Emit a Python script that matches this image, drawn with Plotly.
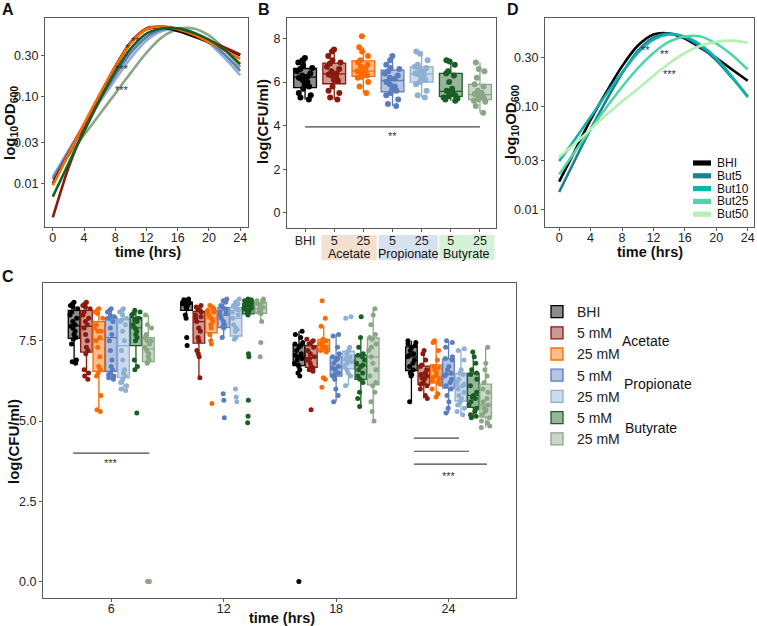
import plotly.graph_objects as go
import numpy as np

W, H = 757, 626
FONT = "Liberation Sans, Arial, sans-serif"


def px(x):
    return x / W


def py(y):
    return 1 - y / H


# ---------------- Panel A: fitted growth curves (log10 OD600) ----------------
hours = [0, 2, 4, 6, 8, 10, 12, 14, 16, 18, 20, 22, 24]
a_bhi = [-2.00, -1.66, -1.32, -0.98, -0.65, -0.37, -0.22, -0.20, -0.24, -0.30, -0.37, -0.44, -0.52]
a_ace5 = [-2.39, -1.82, -1.37, -0.99, -0.65, -0.37, -0.21, -0.19, -0.22, -0.28, -0.35, -0.43, -0.51]
a_ace25 = [-2.02, -1.66, -1.31, -0.97, -0.65, -0.38, -0.22, -0.19, -0.22, -0.28, -0.37, -0.46, -0.56]
a_prop5 = [-1.95, -1.63, -1.32, -1.03, -0.75, -0.49, -0.31, -0.22, -0.21, -0.26, -0.36, -0.51, -0.70]
a_prop25 = [-1.92, -1.62, -1.33, -1.06, -0.80, -0.55, -0.35, -0.24, -0.21, -0.26, -0.38, -0.55, -0.75]
a_but5 = [-2.15, -1.77, -1.40, -1.04, -0.71, -0.44, -0.27, -0.21, -0.21, -0.26, -0.34, -0.46, -0.62]
a_but25 = [-1.93, -1.68, -1.44, -1.20, -0.96, -0.72, -0.49, -0.31, -0.22, -0.21, -0.29, -0.45, -0.66]
od_ticks = [0.01, 0.03, 0.10, 0.30]
od_ticktext = ["0.01", "0.03", "0.10", "0.30"]

# ---------------- Panel D: butyrate growth curves (log10 OD600) ----------------
d_names = ["BHI", "But5", "But10", "But25", "But50"]
d_bhi = [-1.73, -1.43, -1.13, -0.86, -0.61, -0.41, -0.30, -0.29, -0.34, -0.43, -0.53, -0.64, -0.75]
d_but5 = [-1.83, -1.52, -1.22, -0.94, -0.68, -0.46, -0.33, -0.29, -0.33, -0.42, -0.55, -0.72, -0.90]
d_but10 = [-1.53, -1.32, -1.10, -0.88, -0.67, -0.48, -0.35, -0.30, -0.32, -0.40, -0.53, -0.71, -0.91]
d_but25 = [-1.66, -1.44, -1.22, -1.01, -0.81, -0.63, -0.48, -0.37, -0.32, -0.32, -0.39, -0.50, -0.64]
d_but50 = [-1.49, -1.36, -1.22, -1.08, -0.95, -0.83, -0.70, -0.58, -0.48, -0.41, -0.37, -0.36, -0.38]

# ---------------- Panel B: log(CFU/ml) per condition ----------------
b_groups = ["BHI", "Acetate 5", "Acetate 25", "Propionate 5", "Propionate 25", "Butyrate 5", "Butyrate 25"]
b_ticktext = ["BHI", "5", "25", "5", "25", "5", "25"]
b_bhi = [7.1, 7.0, 6.9, 6.75, 6.65, 6.6, 6.5, 6.4, 6.3, 6.25, 6.2, 6.1, 6.0, 5.9, 5.8, 5.7, 5.5, 5.4, 5.3, 5.2]
b_ace5 = [7.5, 7.4, 7.2, 7.0, 6.9, 6.85, 6.7, 6.6, 6.5, 6.4, 6.35, 6.3, 6.2, 6.1, 6.05, 5.8, 5.6, 5.5, 5.3, 5.2]
b_ace25 = [8.1, 7.6, 7.4, 7.2, 7.0, 6.9, 6.8, 6.7, 6.6, 6.5, 6.45, 6.4, 6.35, 6.3, 6.25, 6.2, 6.0, 5.8, 5.5]
b_prop5 = [7.2, 7.0, 6.8, 6.65, 6.6, 6.5, 6.4, 6.3, 6.2, 6.15, 6.0, 5.9, 5.8, 5.7, 5.6, 5.5, 5.4, 5.2, 5.0, 4.9]
b_prop25 = [7.4, 7.3, 7.0, 6.8, 6.7, 6.65, 6.6, 6.5, 6.4, 6.35, 6.3, 6.2, 6.1, 6.0, 5.9, 5.6, 5.4, 5.3]
b_but5 = [7.0, 6.95, 6.8, 6.5, 6.4, 6.3, 6.0, 5.7, 5.6, 5.55, 5.5, 5.45, 5.4, 5.35, 5.3, 5.25, 5.2, 5.15]
b_but25 = [6.9, 6.6, 6.5, 6.2, 5.9, 5.8, 5.6, 5.5, 5.45, 5.4, 5.35, 5.3, 5.25, 5.2, 5.15, 5.1, 4.9, 4.6]

# ---------------- Panel C: log(CFU/ml) over time ----------------
c_times = [6, 12, 18, 24]
c_legend = ["BHI", "5 mM", "25 mM", "5 mM", "25 mM", "5 mM", "25 mM"]
c_bhi = {
    6: [8.7, 8.65, 8.6, 8.55, 8.5, 8.4, 8.3, 8.2, 8.1, 8.0, 7.95, 7.9, 7.8, 7.7, 7.6, 7.55, 7.4, 6.9, 6.85, 6.8],
    12: [8.8, 8.78, 8.75, 8.72, 8.7, 8.7, 8.68, 8.65, 8.65, 8.6, 8.6, 8.55, 8.5, 8.3, 8.2, 7.6, 7.35],
    18: [7.8, 7.7, 7.6, 7.45, 7.4, 7.35, 7.3, 7.2, 7.1, 7.05, 7.0, 6.95, 6.9, 6.8, 6.75, 6.7, 6.6, 6.5, 6.4, 0.0],
    24: [7.5, 7.45, 7.4, 7.35, 7.3, 7.2, 7.1, 7.05, 7.0, 6.9, 6.8, 6.7, 6.6, 6.5, 6.45, 6.4, 5.6],
}
c_ace5 = {
    6: [8.7, 8.65, 8.6, 8.55, 8.5, 8.4, 8.3, 8.2, 8.1, 8.0, 7.9, 7.7, 7.5, 7.3, 7.2, 7.1, 6.6, 6.5, 6.4, 6.3],
    12: [8.6, 8.55, 8.5, 8.45, 8.4, 8.3, 8.25, 8.2, 8.1, 7.9, 7.8, 7.6, 7.5, 7.2, 7.1, 7.0, 6.35],
    18: [7.55, 7.5, 7.45, 7.4, 7.3, 7.2, 7.1, 7.0, 6.95, 6.9, 6.8, 6.7, 6.65, 6.6, 6.55, 5.35],
    24: [7.2, 7.1, 6.9, 6.75, 6.7, 6.6, 6.5, 6.45, 6.4, 6.35, 6.3, 6.2, 6.15, 6.1, 6.0, 5.8, 5.7],
}
c_ace25 = {
    6: [8.5, 8.45, 8.4, 8.35, 8.2, 8.0, 7.9, 7.8, 7.8, 7.6, 7.5, 7.3, 7.0, 6.7, 6.6, 6.5, 6.4, 5.8, 5.35, 5.3],
    12: [8.6, 8.55, 8.5, 8.45, 8.4, 8.35, 8.3, 8.2, 8.1, 8.0, 7.9, 7.7, 7.5, 7.4, 5.55],
    18: [8.75, 8.2, 7.95, 7.55, 7.5, 7.45, 7.4, 7.35, 7.3, 7.25, 7.2, 7.15, 6.35, 6.3, 6.05],
    24: [7.5, 7.45, 7.2, 6.9, 6.7, 6.65, 6.6, 6.5, 6.4, 6.35, 6.3, 6.25, 6.2, 6.15, 6.0, 5.85, 5.75],
}
c_prop5 = {
    6: [8.5, 8.45, 8.4, 8.3, 8.25, 8.2, 8.2, 8.1, 7.9, 7.7, 7.5, 7.2, 6.9, 6.7, 6.6, 6.5, 6.45, 6.4, 6.35, 6.3],
    12: [8.8, 8.75, 8.7, 8.6, 8.55, 8.5, 8.45, 8.4, 8.35, 8.3, 8.2, 8.1, 8.0, 7.95, 7.9, 7.6, 5.85, 5.65, 5.1],
    18: [7.7, 7.65, 7.3, 7.1, 7.0, 6.95, 6.9, 6.8, 6.7, 6.65, 6.6, 6.5, 6.45, 6.4, 6.3, 6.0, 5.8, 5.6],
    24: [7.5, 7.45, 7.3, 7.0, 6.95, 6.9, 6.7, 6.6, 6.5, 6.45, 6.4, 6.3, 6.2, 6.1, 6.0, 5.8, 5.6, 5.4, 5.25],
}
c_prop25 = {
    6: [8.5, 8.45, 8.4, 8.3, 8.2, 8.15, 8.1, 8.0, 7.8, 7.5, 7.2, 6.9, 6.6, 6.5, 6.4, 6.3, 6.2, 6.1, 6.0, 5.95],
    12: [8.8, 8.7, 8.65, 8.6, 8.55, 8.5, 8.45, 8.4, 8.3, 8.2, 8.0, 7.9, 7.85, 7.8, 7.6, 7.55, 6.0, 5.75, 5.6],
    18: [8.25, 8.2, 7.3, 7.2, 7.1, 7.0, 6.95, 6.9, 6.85, 6.8, 6.7, 6.6, 6.5, 6.4, 6.1],
    24: [7.25, 7.2, 6.9, 6.6, 6.5, 6.45, 6.3, 6.2, 6.15, 6.1, 6.0, 5.9, 5.8, 5.7, 5.6, 5.5, 5.4, 5.3, 5.2],
}
c_but5 = {
    6: [8.45, 8.4, 8.35, 8.3, 8.2, 8.15, 8.1, 8.0, 7.9, 7.8, 7.7, 7.6, 7.5, 6.9, 6.7, 6.6, 5.25],
    12: [8.8, 8.78, 8.75, 8.72, 8.7, 8.68, 8.65, 8.62, 8.6, 8.58, 8.55, 8.52, 8.5, 8.48, 8.45, 8.42,
         8.4, 8.38, 8.35, 8.3, 7.1, 7.0, 5.65, 5.15, 4.95],
    18: [8.25, 7.6, 7.3, 7.1, 7.05, 7.0, 6.9, 6.8, 6.75, 6.7, 6.6, 6.5, 6.4, 6.3, 6.2, 5.9, 5.7, 5.45],
    24: [7.15, 7.0, 6.8, 6.6, 6.5, 6.45, 6.3, 6.1, 5.9, 5.8, 5.75, 5.7, 5.6, 5.5, 5.4, 5.3, 5.2, 5.15, 5.1],
}
c_but25 = {
    6: [8.3, 8.0, 7.9, 7.7, 7.6, 7.5, 7.5, 7.4, 7.3, 7.2, 7.1, 7.0, 6.9, 6.85, 6.8, 0.0, 0.0, 0.0],
    12: [8.8, 8.75, 8.72, 8.7, 8.65, 8.6, 8.55, 8.5, 8.45, 8.4, 8.38, 8.35, 8.1, 7.45, 7.0],
    18: [8.5, 8.3, 8.0, 7.7, 7.6, 7.55, 7.4, 7.3, 7.2, 7.0, 6.8, 6.6, 6.4, 6.2, 6.1, 5.9, 5.6, 5.3, 5.0],
    24: [7.3, 6.8, 6.6, 6.4, 6.2, 6.0, 5.9, 5.7, 5.6, 5.5, 5.4, 5.35, 5.3, 5.2, 5.1, 5.0, 4.95, 4.85, 4.8],
}

# ---------------- styling ----------------
cond_colors = ["#000000", "#8B1A0E", "#FF6A00", "#5B7DBE", "#8FB0D2", "#1B5E24", "#89A785"]
d_colors = ["#000000", "#1D7F92", "#12B2AD", "#4FD6A6", "#B5F0B5"]


def rgba(hexc, a):
    hexc = hexc.lstrip("#")
    r, g, b = int(hexc[0:2], 16), int(hexc[2:4], 16), int(hexc[4:6], 16)
    return f"rgba({r},{g},{b},{a})"


fig = go.Figure()

# Panel A curves
a_series = [a_prop25, a_but25, a_prop5, a_bhi, a_ace5, a_ace25, a_but5]
a_order = [4, 6, 3, 0, 1, 2, 5]
for idx, ser in zip(a_order, a_series):
    fig.add_trace(go.Scatter(x=hours, y=ser, mode="lines", xaxis="x", yaxis="y",
                             line=dict(color=cond_colors[idx], width=2.6, shape="spline", smoothing=0.8),
                             showlegend=False, hoverinfo="skip"))

# Panel D curves
d_series = [d_bhi, d_but5, d_but10, d_but25, d_but50]
for name, ser, col in zip(d_names, d_series, d_colors):
    fig.add_trace(go.Scatter(x=hours, y=ser, mode="lines", xaxis="x4", yaxis="y4", name=name,
                             line=dict(color=col, width=2.6, shape="spline", smoothing=0.8),
                             showlegend=False, hoverinfo="skip"))

# Panel B boxes
b_series = [b_bhi, b_ace5, b_ace25, b_prop5, b_prop25, b_but5, b_but25]
for g, ser, col in zip(b_groups, b_series, cond_colors):
    fig.add_trace(go.Box(x=[g] * len(ser), y=ser, xaxis="x2", yaxis="y2", name=g,
                         offsetgroup="B", width=0.78,
                         boxpoints="all", jitter=0.75, pointpos=0, whiskerwidth=0,
                         fillcolor=rgba(col, 0.45), line=dict(color=col, width=1.3),
                         marker=dict(color=col, size=6, opacity=1),
                         showlegend=False, hoverinfo="skip"))

# Panel C boxes
c_series = [c_bhi, c_ace5, c_ace25, c_prop5, c_prop25, c_but5, c_but25]
for i, (ser, col, lab) in enumerate(zip(c_series, cond_colors, c_legend)):
    xs, ys = [], []
    for t in c_times:
        xs += [t] * len(ser[t])
        ys += ser[t]
    fig.add_trace(go.Box(x=xs, y=ys, xaxis="x3", yaxis="y3", name=lab,
                         offsetgroup=f"c{i}", legendgroup=f"c{i}",
                         boxpoints="all", jitter=0.8, pointpos=0, whiskerwidth=0,
                         fillcolor=rgba(col, 0.45), line=dict(color=col, width=1.3),
                         marker=dict(color=col, size=5, opacity=1),
                         showlegend=True, hoverinfo="skip"))

axis_common = dict(showline=True, mirror=True, linecolor="#5a5a5a", linewidth=1.3,
                   ticks="outside", ticklen=3, tickcolor="#5a5a5a", showgrid=False, zeroline=False,
                   tickfont=dict(family=FONT, size=12.5, color="#222"))

fig.update_layout(
    width=W, height=H, margin=dict(l=0, r=0, t=0, b=0),
    paper_bgcolor="white", plot_bgcolor="white",
    font=dict(family=FONT, color="#222"),
    boxmode="group", boxgap=0.23, boxgroupgap=0.06,
    xaxis=dict(domain=[px(45), px(248)], anchor="y", range=[-1, 25], ticklabelstandoff=-4,
               tickvals=[0, 4, 8, 12, 16, 20, 24], **axis_common),
    yaxis=dict(domain=[py(227), py(18)], anchor="x", range=[-2.5, -0.09],
               tickvals=list(np.log10(od_ticks)), ticktext=od_ticktext, **axis_common),
    xaxis2=dict(domain=[px(287), px(496)], anchor="y2", type="category", range=[-0.62, 6.55],
                categoryorder="array", categoryarray=b_groups, ticklabelstandoff=-2,
                tickvals=b_groups, ticktext=b_ticktext, **axis_common),
    yaxis2=dict(domain=[py(228), py(18)], anchor="x2", range=[-0.69, 8.94],
                tickvals=[0, 2, 4, 6, 8], **axis_common),
    xaxis3=dict(domain=[px(43), px(516)], anchor="y3", range=[2.36, 27.6], ticklabelstandoff=-4,
                tickvals=c_times, **axis_common),
    yaxis3=dict(domain=[py(598), py(283)], anchor="x3", range=[-0.51, 9.3],
                tickvals=[0, 2.5, 5, 7.5], ticktext=["0.0", "2.5", "5.0", "7.5"], **axis_common),
    xaxis4=dict(domain=[px(545), px(754)], anchor="y4", range=[-1.8, 24.8], ticklabelstandoff=-4,
                tickvals=[0, 4, 8, 12, 16, 20, 24], **axis_common),
    yaxis4=dict(domain=[py(227), py(18)], anchor="x4", range=[-2.17, -0.14],
                tickvals=list(np.log10(od_ticks)), ticktext=od_ticktext, **axis_common),
    legend=dict(x=px(537), y=py(296), xanchor="left", yanchor="top",
                font=dict(family=FONT, size=14, color="#222"), tracegroupgap=0,
                bgcolor="rgba(0,0,0,0)"),
)

ann = []
shapes = []


def text(x, y, s, size=14, bold=False, xref="paper", yref="paper", angle=0, xanchor="center", color="#111"):
    ann.append(dict(x=x, y=y, xref=xref, yref=yref, text=(f"<b>{s}</b>" if bold else s),
                    showarrow=False, textangle=angle, xanchor=xanchor, yanchor="middle",
                    font=dict(family=FONT, size=size, color=color)))


# panel letters
text(px(8), py(9), "A", 16, True)
text(px(264), py(9), "B", 16, True)
text(px(513), py(9), "D", 16, True)
text(px(8), py(277), "C", 16, True)

# axis titles
text(px(11), py(123), "log<sub>10</sub>OD<sub>600</sub>", 15, True, angle=-90)
text(px(148), py(252), "time (hrs)", 14.5, True)
text(px(263), py(122), "log(CFU/ml)", 15, True, angle=-90)
text(px(512), py(122), "log<sub>10</sub>OD<sub>600</sub>", 15, True, angle=-90)
text(px(650), py(252), "time (hrs)", 14.5, True)
text(px(13), py(442), "log(CFU/ml)", 15, True, angle=-90)
text(px(282), py(618), "time (hrs)", 14.5, True)

# significance marks panel A
for xv, yv, s in [(10.6, -0.36, "**"), (9.6, -0.44, "*"), (8.9, -0.68, "***"), (8.9, -0.92, "***")]:
    text(xv, yv, s, 11, xref="x", yref="y", color="#333")
# panel D
for xv, yv, s in [(11.0, -0.45, "**"), (13.4, -0.49, "**"), (14.1, -0.68, "***")]:
    text(xv, yv, s, 11, xref="x4", yref="y4", color="#333")

# panel B significance
shapes.append(dict(type="line", xref="x2", yref="y2", x0=0, x1=6, y0=3.95, y1=3.95,
                   line=dict(color="#444", width=1.2)))
text(3, 3.55, "**", 11, xref="x2", yref="y2", color="#333")

# panel B group bands and labels
for (x0, x1, col, lab) in [(0.56, 2.46, "#F3E0CF", "Acetate"), (2.52, 4.55, "#D8E1F0", "Propionate"),
                           (4.6, 6.5, "#D5F2D8", "Butyrate")]:
    shapes.append(dict(type="rect", xref="x2", yref="paper", x0=x0, x1=x1, y0=py(260), y1=py(235),
                       fillcolor=col, line=dict(width=0), layer="below"))
    text((x0 + x1) / 2, py(254), lab, 12.5, xref="x2")

# panel C significance lines
for x0, x1, yv in [(3.97, 8.03, 4.0), (22.15, 24.56, 4.47), (22.15, 25.09, 4.06), (22.15, 26.05, 3.66)]:
    shapes.append(dict(type="line", xref="x3", yref="y3", x0=x0, x1=x1, y0=yv, y1=yv,
                       line=dict(color="#444", width=1.2)))
text(6, 3.7, "***", 11, xref="x3", yref="y3", color="#333")
text(24, 3.3, "***", 11, xref="x3", yref="y3", color="#333")

# panel C legend group labels
text(px(620), py(341), "Acetate", 14, xanchor="left")
text(px(622), py(384), "Propionate", 14, xanchor="left")
text(px(623), py(428), "Butyrate", 14, xanchor="left")

# panel D legend (manual, tight spacing as in the reference)
for i, (name, col) in enumerate(zip(d_names, d_colors)):
    yc = 163 + i * 12.8
    shapes.append(dict(type="rect", xref="paper", yref="paper", x0=px(693), x1=px(711),
                       y0=py(yc + 2.6), y1=py(yc - 2.6), fillcolor=col, line=dict(width=0)))
    ann.append(dict(x=px(716), y=py(yc), xref="paper", yref="paper", text=name, showarrow=False,
                    xanchor="left", yanchor="middle", borderpad=0,
                    font=dict(family=FONT, size=12, color="#111")))

fig.update_layout(annotations=ann, shapes=shapes)
fig.write_html("out.html", config={"displayModeBar": False},
               post_script="document.body.style.margin='0px';document.body.style.padding='0px';")
